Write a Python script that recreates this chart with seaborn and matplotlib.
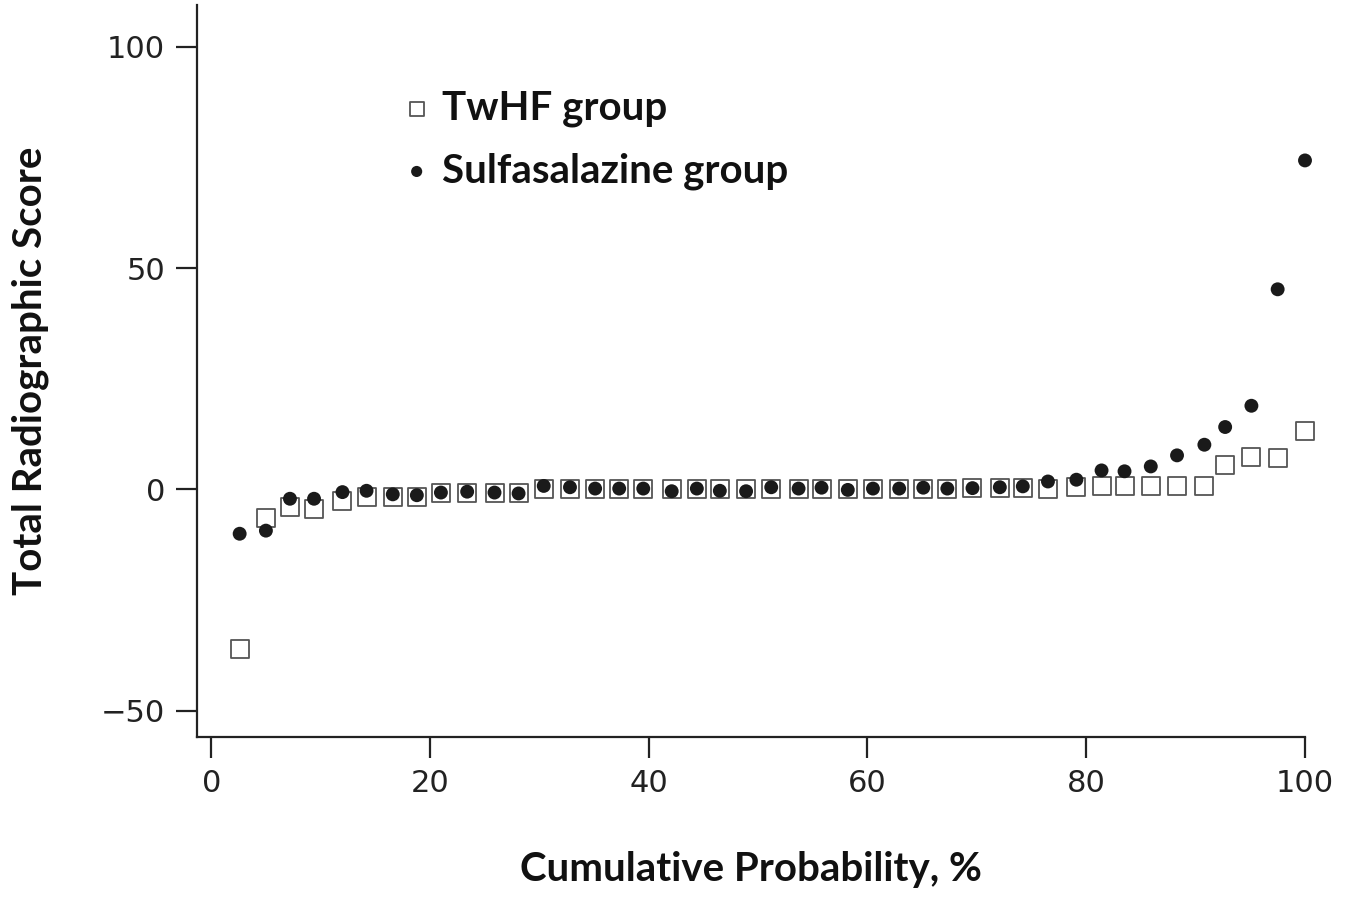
import pandas as pd
import seaborn as sns
import matplotlib.pyplot as plt

# cumulative probability (%) of each ranked patient
cum_prob = [2.6, 5.0, 7.2, 9.4, 12.0, 14.2, 16.6, 18.8, 21.0, 23.4, 25.9, 28.1,
            30.4, 32.8, 35.1, 37.3, 39.5, 42.1, 44.4, 46.5, 48.9, 51.2, 53.7,
            55.8, 58.2, 60.5, 62.9, 65.1, 67.3, 69.6, 72.1, 74.2, 76.5, 79.1,
            81.4, 83.5, 85.9, 88.3, 90.8, 92.7, 95.1, 97.5, 100.0]

twhf_score = [-36.1, -6.5, -4.0, -4.5, -2.7, -1.8, -1.6, -1.8, -0.7, -0.7, -0.7, -0.9,
              0.2, 0.2, 0.2, 0.2, 0.2, 0.2, 0.2, 0.2, 0.2, 0.2, 0.2,
              0.2, 0.2, 0.2, 0.2, 0.2, 0.2, 0.3, 0.3, 0.3, 0.15, 0.5,
              0.7, 0.7, 0.7, 0.7, 0.7, 5.6, 7.4, 7.1, 13.3]

sulfa_score = [-10.0, -9.3, -2.1, -2.1, -0.6, -0.3, -1.1, -1.3, -0.7, -0.5, -0.7, -0.9,
               0.8, 0.5, 0.2, 0.2, 0.2, -0.4, 0.2, -0.3, -0.4, 0.5, 0.2,
               0.4, -0.1, 0.2, 0.2, 0.4, 0.2, 0.3, 0.5, 0.7, 1.8, 2.2,
               4.3, 4.1, 5.2, 7.7, 10.1, 14.1, 18.9, 45.2, 74.3]

df = pd.DataFrame({"prob": cum_prob, "twhf": twhf_score, "sulfa": sulfa_score})

sns.set_style("ticks")
plt.rcParams["font.family"] = ["DejaVu Sans"]

fig = plt.figure(figsize=(13.53, 8.99), dpi=100)
ax = fig.add_axes([197 / 1353, 162 / 899, 1108 / 1353, 732 / 899])

sns.scatterplot(data=df, x="prob", y="twhf", marker="s", s=165, facecolor="white",
                edgecolor="#555555", linewidth=1.3, label="TwHF group", ax=ax,
                zorder=2, clip_on=False)
sns.scatterplot(data=df, x="prob", y="sulfa", marker="o", s=100, color="#1a1a1a",
                edgecolor="none", label="Sulfasalazine group", ax=ax,
                zorder=3, clip_on=False)

ax.set_xlim(-1.3, 100)
ax.set_ylim(-55.9, 109.4)
ax.set_xticks([0, 20, 40, 60, 80, 100])
ax.set_yticks([-50, 0, 50, 100])
sns.despine(ax=ax)
for sp in ["left", "bottom"]:
    ax.spines[sp].set_linewidth(1.6)
    ax.spines[sp].set_color("#222222")
ax.tick_params(length=15, width=1.6, color="#222222", labelsize=22,
               labelcolor="#222222", pad=8)

lab_font = dict(family="Lato", weight="bold", size=29, color="#111111")
ax.set_xlabel("Cumulative Probability, %", labelpad=38, **lab_font)
ax.set_ylabel("Total Radiographic Score", labelpad=37, **lab_font)

leg = ax.legend(loc="upper left", bbox_to_anchor=(0.151, 0.934), frameon=False,
                markerscale=0.8, handlelength=0.8, handletextpad=0.23,
                labelspacing=0.62,
                prop={"family": "Lato", "weight": "bold", "size": 29})
for t in leg.get_texts():
    t.set_color("#111111")

fig.savefig("out.png", dpi=100)
